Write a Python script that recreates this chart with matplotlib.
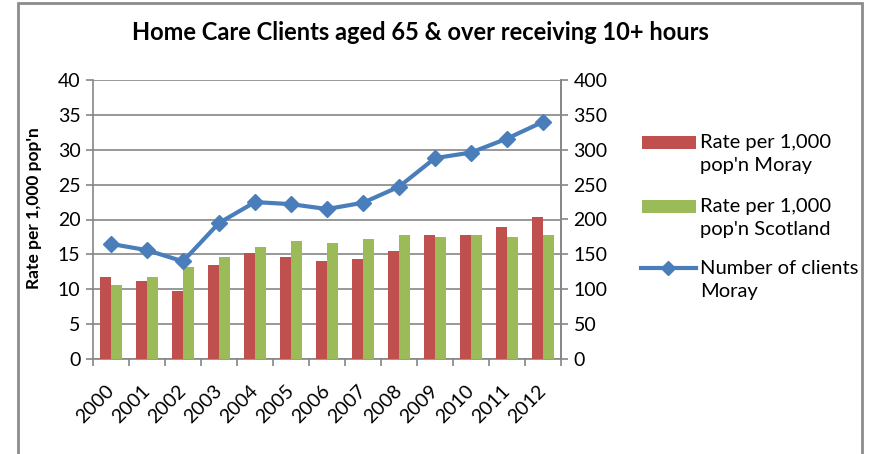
import matplotlib.pyplot as plt
import matplotlib.transforms as mtransforms
import numpy as np
from matplotlib.lines import Line2D
from matplotlib.patches import Rectangle

years = ["2000", "2001", "2002", "2003", "2004", "2005", "2006",
         "2007", "2008", "2009", "2010", "2011", "2012"]
rate_moray = [11.8, 11.2, 9.8, 13.5, 15.2, 14.6, 14.0, 14.3, 15.5, 17.8, 17.8, 18.9, 20.3]
rate_scotland = [10.6, 11.8, 13.2, 14.6, 16.0, 16.9, 16.6, 17.2, 17.8, 17.5, 17.8, 17.5, 17.8]
clients_moray = [165, 156, 140, 195, 225, 222, 215, 224, 247, 288, 296, 316, 340]
legend_labels = ["Rate per 1,000\npop'n Moray", "Rate per 1,000\npop'n Scotland",
                 "Number of clients\nMoray"]

RED = "#C0504D"
GREEN = "#9BBB59"
BLUE = "#4A7EBB"
GRID = "#868686"
W, H = 870, 454

plt.rcParams['font.family'] = ['Lato', 'DejaVu Sans']

fig = plt.figure(figsize=(8.7, 4.54), dpi=100)
fig.patches.append(Rectangle((18 / W, -0.05), 844 / W, 1.05 - 3 / H,
                             transform=fig.transFigure, fill=False,
                             edgecolor="#8c8c8c", linewidth=2))

ax = fig.add_axes([93 / W, 95 / H, 468 / W, 279 / H])
x = np.arange(len(years))
w = 0.31
ax.bar(x - w / 2, rate_moray, w, color=RED, zorder=3)
ax.bar(x + w / 2, rate_scotland, w, color=GREEN, zorder=3)
ax.set_xlim(-0.5, len(years) - 0.5)
ax.set_ylim(0, 40)
ax.set_yticks(range(0, 41, 5))
ax.yaxis.grid(True, color=GRID, linewidth=1.2, zorder=0)
ax.set_axisbelow(True)
ax.set_xticks(x)
ax.set_xticklabels(years, rotation=45, ha="right", va="center",
                   rotation_mode="anchor", fontsize=14)
shift = mtransforms.ScaledTranslation(5 / 100, 0, fig.dpi_scale_trans)
for lbl in ax.get_xticklabels():
    lbl.set_transform(lbl.get_transform() + shift)
ax.set_xticks(np.arange(-0.5, len(years)), minor=True)
ax.tick_params(axis="x", which="major", length=0, pad=21)
ax.tick_params(axis="x", which="minor", length=5, color=GRID, width=1.2)
ax.tick_params(axis="y", length=5, color=GRID, width=1.2, labelsize=14, pad=4)
for s in ["left", "bottom", "right"]:
    ax.spines[s].set_color(GRID)
    ax.spines[s].set_linewidth(1.2)
ax.spines["top"].set_visible(False)
ax.set_ylabel("Rate per 1,000 pop'n", fontsize=12.5, fontweight="bold")
ax.yaxis.set_label_coords(-0.108, 0.54)

ax2 = ax.twinx()
ax2.plot(x, clients_moray, color=BLUE, linewidth=3, marker="D", markersize=8, zorder=4)
ax2.set_ylim(0, 400)
ax2.set_yticks(range(0, 401, 50))
ax2.tick_params(axis="y", length=5, color=GRID, width=1.2, labelsize=14, pad=4)
for s in ["left", "bottom", "right", "top"]:
    ax2.spines[s].set_visible(False)
ax2.spines["right"].set_visible(True)
ax2.spines["right"].set_color(GRID)
ax2.spines["right"].set_linewidth(1.2)

fig.text(420 / W, 1 - 33 / H, "Home Care Clients aged 65 & over receiving 10+ hours",
         ha="center", va="center", fontsize=17, fontweight="bold")

# legend drawn by hand so the key lines up with the first text line
for i, (lab, yy) in enumerate(zip(legend_labels, [142, 206, 268])):
    yf = 1 - yy / H
    if i < 2:
        fig.patches.append(Rectangle((642 / W, yf - 6.5 / H), 54 / W, 13 / H,
                                     transform=fig.transFigure,
                                     facecolor=[RED, GREEN][i], edgecolor="none"))
    else:
        fig.lines.append(Line2D([641 / W, 696 / W], [yf, yf], transform=fig.transFigure,
                                color=BLUE, linewidth=3))
        fig.lines.append(Line2D([668.5 / W], [yf], transform=fig.transFigure,
                                color=BLUE, marker="D", markersize=7))
    fig.text(700 / W, 1 - (yy - 8) / H, lab, ha="left", va="top",
             fontsize=14.5, linespacing=1.4)

fig.savefig("out.png", dpi=100)
